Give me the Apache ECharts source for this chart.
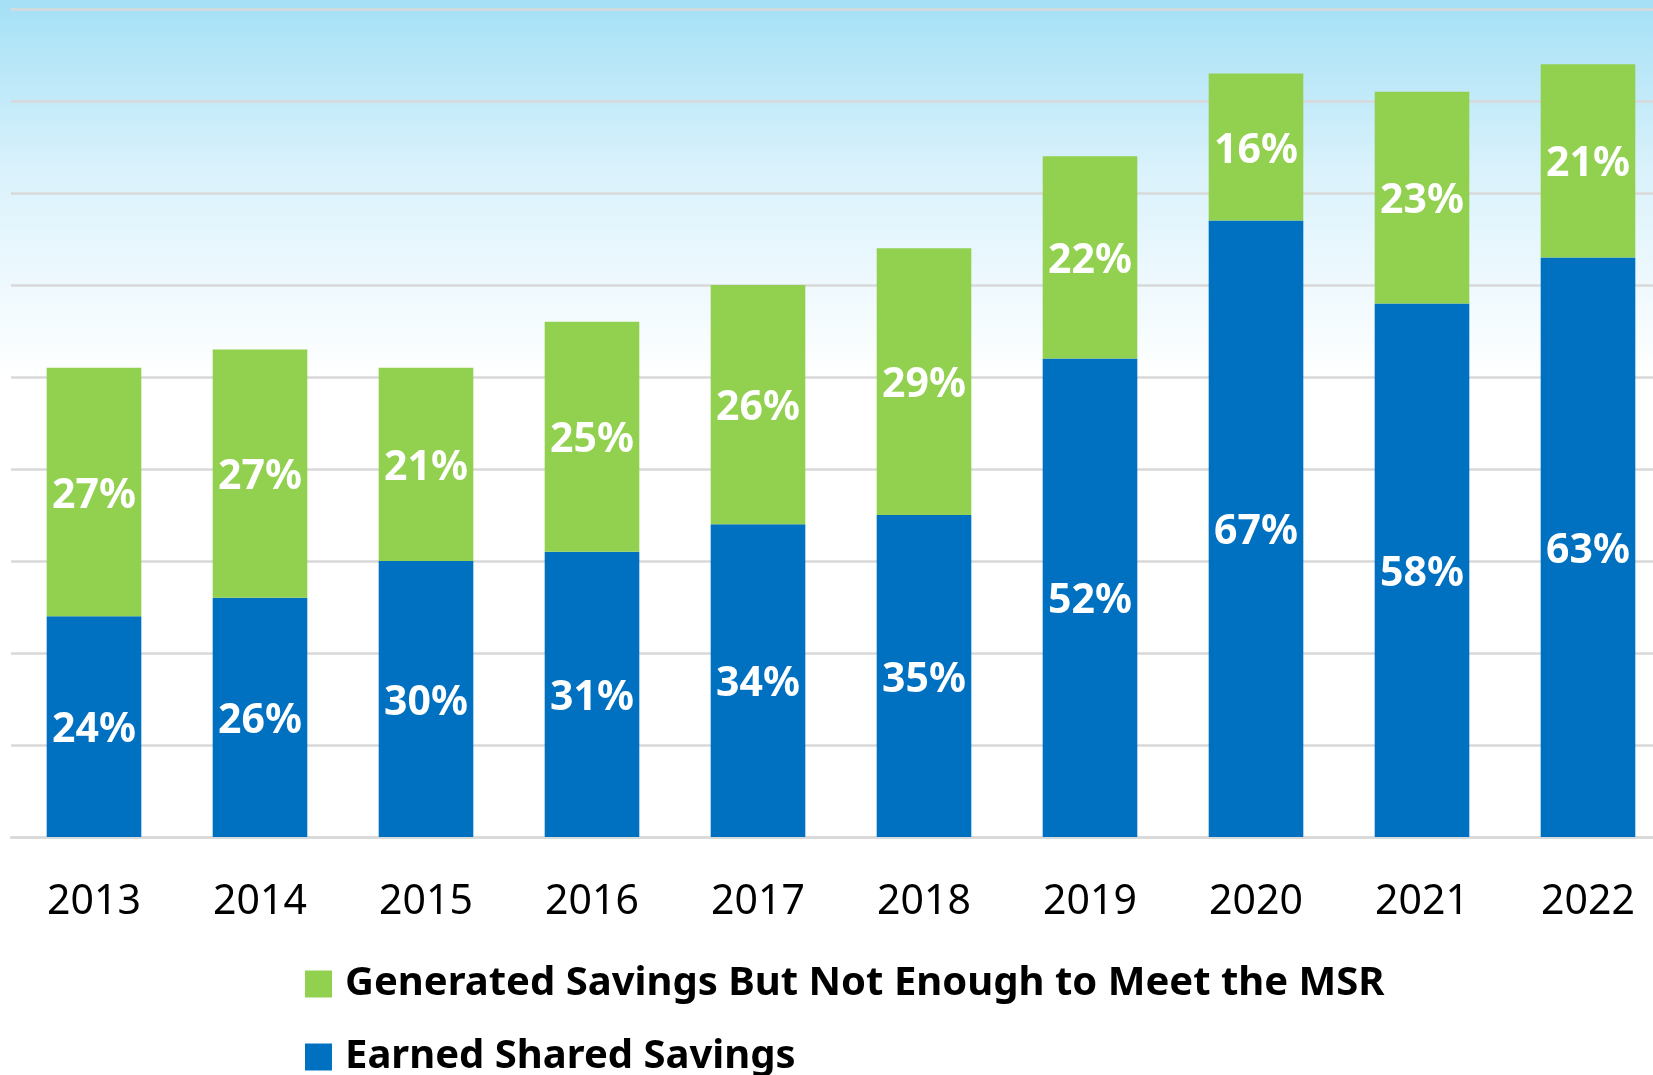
<!DOCTYPE html>
<html>
<head>
<meta charset="utf-8">
<script src="https://cdn.jsdelivr.net/npm/echarts@6/dist/echarts.min.js"></script>
<style>
  html, body { margin: 0; padding: 0; background: #fff; }
  #chart { width: 1653px; height: 1075px; }
</style>
</head>
<body>
<div id="chart"></div>
<script>
// years on the x axis
var years = ['2013', '2014', '2015', '2016', '2017', '2018', '2019', '2020', '2021', '2022'];
// share of ACOs (%)
var earned = [24, 26, 30, 31, 34, 35, 52, 67, 58, 63];
var notEnough = [27, 27, 21, 25, 26, 29, 22, 16, 23, 21];

var chart = echarts.init(document.getElementById('chart'));

var labelStyle = {
    show: true,
    position: 'inside',
    offset: [0, 4],
    formatter: '{c}%',
    color: '#fff',
    fontFamily: 'Noto Sans',
    fontWeight: 'bold',
    fontSize: 41
};

var option = {
    animation: false,
    backgroundColor: '#fff',
    graphic: [{
        type: 'rect',
        z: -10,
        silent: true,
        shape: { x: 0, y: 0, width: 1653, height: 380 },
        style: {
            fill: new echarts.graphic.LinearGradient(0, 0, 0, 1, [
                { offset: 0, color: '#a4e0f6' },
                { offset: 0.45, color: '#daf2fc' },
                { offset: 1, color: '#ffffff' }
            ])
        }
    }],
    grid: { left: 11, top: 9, width: 1660, height: 828, outerBoundsMode: 'none', containLabel: false },
    legend: {
        orient: 'vertical',
        left: 305,
        top: 964,
        height: 140,
        padding: 0,
        itemWidth: 27,
        itemHeight: 27,
        itemGap: 33,
        icon: 'rect',
        data: ['Generated Savings But Not Enough to Meet the MSR', 'Earned Shared Savings'],
        textStyle: {
            color: '#000',
            fontFamily: 'Noto Sans',
            fontWeight: 'bold',
            fontSize: 40,
            lineHeight: 40,
            padding: [0, 0, 0, 8]
        }
    },
    xAxis: {
        type: 'category',
        data: years,
        axisTick: { show: false },
        axisLine: { lineStyle: { color: '#d9d9d9', width: 2.5 } },
        axisLabel: {
            color: '#000',
            fontFamily: 'Noto Sans',
            fontSize: 41,
            margin: 45
        }
    },
    yAxis: {
        type: 'value',
        min: 0,
        max: 90,
        interval: 10,
        axisLabel: { show: false },
        axisLine: { show: false },
        axisTick: { show: false },
        splitLine: { lineStyle: { color: '#d9d9d9', width: 2.5 } }
    },
    series: [{
        name: 'Earned Shared Savings',
        type: 'bar',
        stack: 'total',
        barWidth: '57%',
        itemStyle: { color: '#0070c0' },
        label: labelStyle,
        data: earned
    }, {
        name: 'Generated Savings But Not Enough to Meet the MSR',
        type: 'bar',
        stack: 'total',
        barWidth: '57%',
        itemStyle: { color: '#92d050' },
        label: labelStyle,
        data: notEnough
    }]
};

chart.setOption(option);
</script>
</body>
</html>
